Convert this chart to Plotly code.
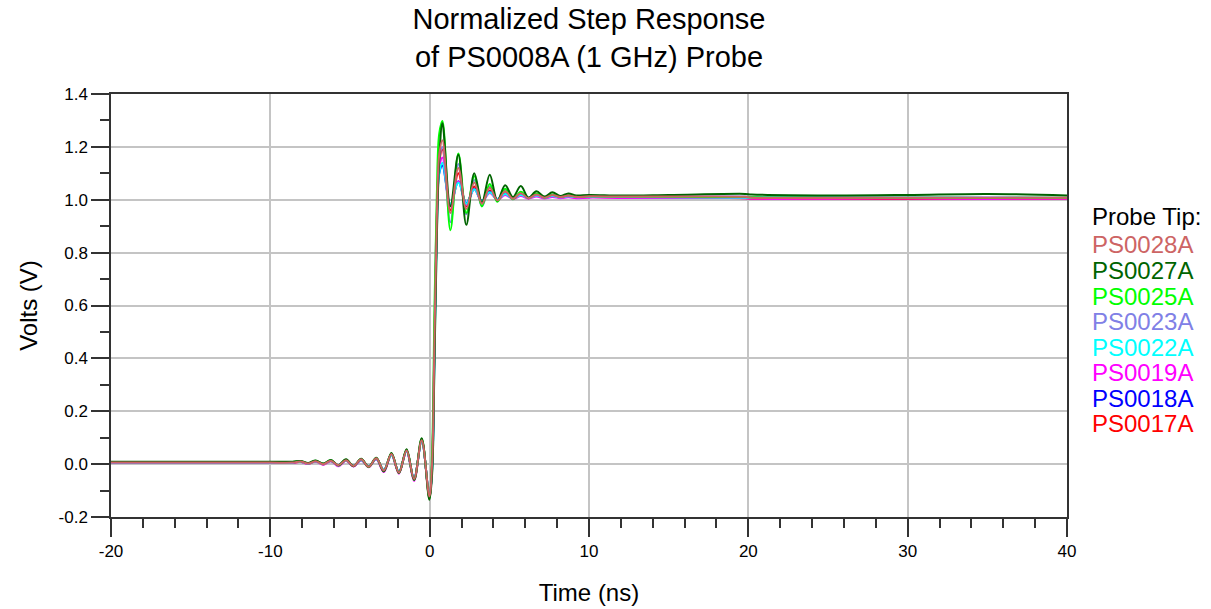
import plotly.graph_objects as go

# ---------------- data ----------------
time_ns = [-20, -14, -10, -8.6,
           -8.1, -7.63, -7.15, -6.68, -6.2, -5.73, -5.25, -4.78, -4.3, -3.83,
           -3.35, -2.88, -2.4, -1.93, -1.45, -0.98, -0.5, -0.02,
           0.15, 0.3, 0.45, 0.6,
           0.8, 1.3, 1.8, 2.3, 2.8, 3.28, 3.77, 4.25, 4.74, 5.22,
           5.72, 6.2, 6.7, 7.2, 7.7, 8.2, 8.7, 9.2,
           10, 12, 15, 19.8, 20.2, 25, 30, 35, 40]

probe_names = ["PS0028A", "PS0027A", "PS0025A", "PS0023A",
               "PS0022A", "PS0019A", "PS0018A", "PS0017A"]
probe_colors = ["#cd6464", "#006400", "#00ff00", "#8080e6",
                "#00ffff", "#ff00ff", "#0000ff", "#ff0000"]

ps0028a = [0.006, 0.006, 0.006, 0.006,
           0.010, 0.002, 0.011, 0.000, 0.013, -0.004, 0.015, -0.007, 0.018, -0.010,
           0.022, -0.024, 0.038, -0.032, 0.052, -0.056, 0.090, -0.122,
           0.00, 0.47, 0.93, 1.17,
           1.225, 0.950, 1.120, 0.965, 1.065, 0.985, 1.045, 0.998, 1.032, 1.004,
           1.025, 1.006, 1.020, 1.008, 1.018, 1.010, 1.016, 1.011,
           1.013, 1.012, 1.012, 1.011, 1.008, 1.007, 1.008, 1.008, 1.008]
ps0027a = [0.009, 0.009, 0.009, 0.009,
           0.012, 0.004, 0.014, 0.002, 0.016, -0.004, 0.018, -0.008, 0.020, -0.010,
           0.024, -0.028, 0.042, -0.034, 0.056, -0.060, 0.098, -0.135,
           -0.04, 0.38, 0.86, 1.15,
           1.290, 0.975, 1.170, 0.905, 1.100, 0.990, 1.095, 0.997, 1.055, 1.010,
           1.052, 1.008, 1.032, 1.012, 1.028, 1.014, 1.024, 1.016,
           1.018, 1.016, 1.018, 1.022, 1.020, 1.016, 1.018, 1.022, 1.016]
ps0025a = [0.008, 0.008, 0.008, 0.008,
           0.011, 0.003, 0.013, 0.001, 0.015, -0.005, 0.017, -0.007, 0.019, -0.011,
           0.023, -0.026, 0.040, -0.033, 0.054, -0.060, 0.096, -0.130,
           0.04, 0.58, 1.02, 1.25,
           1.298, 0.885, 1.175, 0.950, 1.090, 0.975, 1.060, 0.992, 1.042, 1.002,
           1.030, 1.006, 1.024, 1.008, 1.020, 1.010, 1.017, 1.011,
           1.013, 1.012, 1.011, 1.010, 1.009, 1.008, 1.008, 1.007, 1.008]
ps0023a = [0.007, 0.007, 0.007, 0.007,
           0.010, 0.003, 0.012, 0.000, 0.013, -0.005, 0.015, -0.006, 0.017, -0.009,
           0.020, -0.022, 0.036, -0.030, 0.050, -0.054, 0.088, -0.120,
           -0.01, 0.45, 0.92, 1.15,
           1.200, 0.915, 1.135, 0.945, 1.075, 0.975, 1.050, 0.994, 1.036, 1.002,
           1.026, 1.006, 1.020, 1.008, 1.017, 1.010, 1.015, 1.011,
           1.012, 1.012, 1.011, 1.012, 1.010, 1.009, 1.008, 1.008, 1.008]
ps0022a = [0.006, 0.006, 0.006, 0.006,
           0.009, 0.002, 0.011, 0.000, 0.012, -0.004, 0.014, -0.006, 0.016, -0.008,
           0.019, -0.020, 0.034, -0.028, 0.048, -0.052, 0.085, -0.118,
           -0.03, 0.40, 0.88, 1.10,
           1.140, 0.985, 1.065, 0.985, 1.040, 0.995, 1.028, 1.002, 1.022, 1.005,
           1.018, 1.007, 1.016, 1.008, 1.014, 1.009, 1.013, 1.010,
           1.011, 1.010, 1.009, 1.008, 1.008, 1.007, 1.008, 1.007, 1.007]
ps0019a = [0.005, 0.005, 0.005, 0.005,
           0.008, 0.001, 0.010, -0.002, 0.011, -0.008, 0.013, -0.009, 0.015, -0.012,
           0.018, -0.030, 0.035, -0.036, 0.050, -0.064, 0.092, -0.128,
           0.01, 0.50, 0.96, 1.12,
           1.160, 0.975, 1.070, 0.980, 1.040, 0.992, 1.026, 1.000, 1.018, 1.003,
           1.014, 1.004, 1.012, 1.005, 1.010, 1.006, 1.009, 1.006,
           1.008, 1.007, 1.007, 1.006, 1.004, 1.004, 1.005, 1.003, 1.004]
ps0018a = [0.006, 0.006, 0.006, 0.006,
           0.009, 0.002, 0.011, 0.000, 0.012, -0.004, 0.014, -0.006, 0.016, -0.009,
           0.019, -0.022, 0.035, -0.029, 0.049, -0.054, 0.087, -0.120,
           -0.02, 0.42, 0.90, 1.10,
           1.130, 0.980, 1.070, 0.988, 1.042, 0.996, 1.030, 1.003, 1.022, 1.006,
           1.018, 1.008, 1.016, 1.009, 1.014, 1.010, 1.013, 1.010,
           1.012, 1.011, 1.012, 1.010, 1.009, 1.008, 1.008, 1.008, 1.007]
ps0017a = [0.005, 0.005, 0.005, 0.005,
           0.009, 0.001, 0.010, -0.001, 0.012, -0.005, 0.014, -0.007, 0.017, -0.010,
           0.020, -0.024, 0.036, -0.031, 0.050, -0.056, 0.089, -0.124,
           0.00, 0.46, 0.93, 1.14,
           1.190, 0.960, 1.100, 0.975, 1.050, 0.990, 1.035, 0.999, 1.025, 1.004,
           1.019, 1.006, 1.016, 1.007, 1.014, 1.008, 1.012, 1.008,
           1.010, 1.009, 1.008, 1.006, 1.004, 1.004, 1.003, 1.004, 1.004]

x_tick_vals = [-20, -10, 0, 10, 20, 30, 40]
x_tick_text = ["-20", "-10", "0", "10", "20", "30", "40"]
y_tick_vals = [-0.2, 0.0, 0.2, 0.4, 0.6, 0.8, 1.0, 1.2, 1.4]
y_tick_text = ["-0.2", "0.0", "0.2", "0.4", "0.6", "0.8", "1.0", "1.2", "1.4"]

series_values = [ps0028a, ps0027a, ps0025a, ps0023a,
                 ps0022a, ps0019a, ps0018a, ps0017a]

# ---------------- figure ----------------
FONT = "Liberation Sans, Arial, sans-serif"
W, H = 1211, 609
ML, MR, MT, MB = 111, 144, 94, 92

fig = go.Figure()
for name, color, vals in reversed(list(zip(probe_names, probe_colors, series_values))):
    fig.add_trace(go.Scatter(
        x=time_ns, y=vals, mode="lines", name=name,
        line=dict(color=color, width=2, shape="spline", smoothing=1.0),
        showlegend=False, hoverinfo="x+y+name",
    ))

axis_common = dict(
    showline=True, linecolor="#333333", linewidth=1.5, mirror=True,
    ticks="outside", ticklen=18, tickwidth=1.5, tickcolor="#333333",
    showgrid=True, gridcolor="#c4c4c4", gridwidth=2, zeroline=False,
    tickfont=dict(family=FONT, size=17, color="black"),
    tickmode="array", automargin=False,
)

fig.update_xaxes(
    range=[-20, 40], tickvals=x_tick_vals, ticktext=x_tick_text,
    minor=dict(dtick=2, tick0=0, ticks="outside", ticklen=9, tickwidth=1.5,
               tickcolor="#333333", showgrid=False),
    title=dict(text="Time (ns)", font=dict(family=FONT, size=24, color="black"), standoff=24),
    **axis_common,
)
fig.update_yaxes(
    range=[-0.2, 1.4], tickvals=y_tick_vals, ticktext=y_tick_text,
    minor=dict(dtick=0.1, tick0=0, ticks="outside", ticklen=9, tickwidth=1.5,
               tickcolor="#333333", showgrid=False),
    title=dict(text="Volts (V)", font=dict(family=FONT, size=24, color="black"), standoff=14),
    **axis_common,
)

# legend built as coloured text labels
plot_h = H - MT - MB
plot_w = W - ML - MR
legend_x = (1090 - ML) / plot_w
annotations = [dict(
    text="Probe Tip:", x=legend_x, y=(H - MB - 216) / plot_h,
    xref="paper", yref="paper", xanchor="left", yanchor="middle",
    showarrow=False, font=dict(family=FONT, size=24, color="black"),
)]
for i, (name, color) in enumerate(zip(probe_names, probe_colors)):
    y_px = 245 + 25.55 * i
    annotations.append(dict(
        text=name, x=legend_x, y=(H - MB - y_px) / plot_h,
        xref="paper", yref="paper", xanchor="left", yanchor="middle",
        showarrow=False, font=dict(family=FONT, size=24, color=color),
    ))

fig.update_layout(
    width=W, height=H, autosize=False,
    margin=dict(l=ML, r=MR, t=MT, b=MB, pad=0, autoexpand=False),
    paper_bgcolor="white", plot_bgcolor="white",
    title=dict(text="Normalized Step Response<br>of PS0008A (1 GHz) Probe",
               x=(ML + plot_w / 2) / W, xanchor="center",
               y=1 - 29 / H, yanchor="top", yref="container",
               font=dict(family=FONT, size=29, color="black")),
    annotations=annotations,
    font=dict(family=FONT),
)

fig.write_html("out.html", config={"displayModeBar": False},
               post_script="document.body.style.margin='0';")
